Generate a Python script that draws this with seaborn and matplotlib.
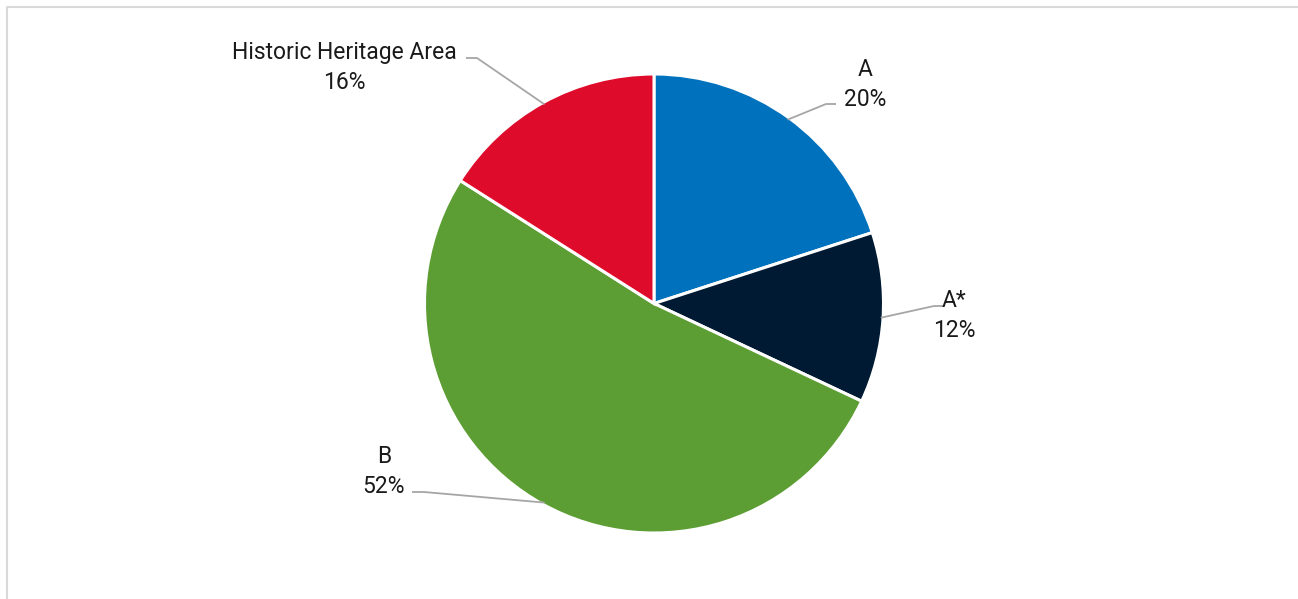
import numpy as np
import matplotlib
matplotlib.use("Agg")
import matplotlib.pyplot as plt
import seaborn as sns

sns.set_theme(style="white")
plt.rcParams["font.family"] = ["Roboto", "DejaVu Sans"]

# Share of area by heritage category
categories = ["A", "A*", "B", "Historic Heritage Area"]
shares = [20, 12, 52, 16]
colors = ["#0071BC", "#001A33", "#5C9E33", "#DF0B2B"]

W, H = 1298, 599
fig = plt.figure(figsize=(W / 100, H / 100), dpi=100)
ax = fig.add_axes([0, 0, 1, 1])


def up(y):
    """Convert a top-down pixel row into the y-up axes coordinate."""
    return H - y


cx, cy, R = 654, 303.5, 229.5

wedges, _ = ax.pie(shares, colors=colors, startangle=90, counterclock=False,
                   center=(cx, up(cy)), radius=R,
                   wedgeprops=dict(edgecolor="white", linewidth=2.2),
                   frame=True)
ax.set_xlim(0, W)
ax.set_ylim(0, H)
ax.set_aspect("equal")
ax.axis("off")

# Chart frame
ax.plot([6.5, 6.5, W + 5], [up(H + 5), up(6.5), up(6.5)], color="#d9d9d9",
        lw=1.5, solid_capstyle="butt", zorder=1)

# label layout: (text center x, first baseline row, elbow x, elbow row, end x)
layout = {
    "A": (865, 76, 826, 104, 836),
    "A*": (954, 307, 934, 306, 943),
    "B": (384, 463, 424, 492, 412),
    "Historic Heritage Area": (344, 59, 477, 58, 466),
}

line_col = "#a6a6a6"
fs = 16.5
for w, name, val in zip(wedges, categories, shares):
    mid = np.deg2rad((w.theta1 + w.theta2) / 2)
    px = cx + R * 0.99 * np.cos(mid)
    py = up(cy) + R * 0.99 * np.sin(mid)
    tx, ty, ex, ey, endx = layout[name]
    ax.plot([px, ex, endx], [py, up(ey), up(ey)], color=line_col, lw=1.3,
            zorder=5, solid_capstyle="butt")
    ax.text(tx, up(ty), name, ha="center", va="baseline", fontsize=fs,
            color="#1a1a1a", zorder=6)
    ax.text(tx, up(ty + 30), f"{val}%", ha="center", va="baseline",
            fontsize=fs, color="#1a1a1a", zorder=6)

fig.savefig("out.png", dpi=100, facecolor="white")
